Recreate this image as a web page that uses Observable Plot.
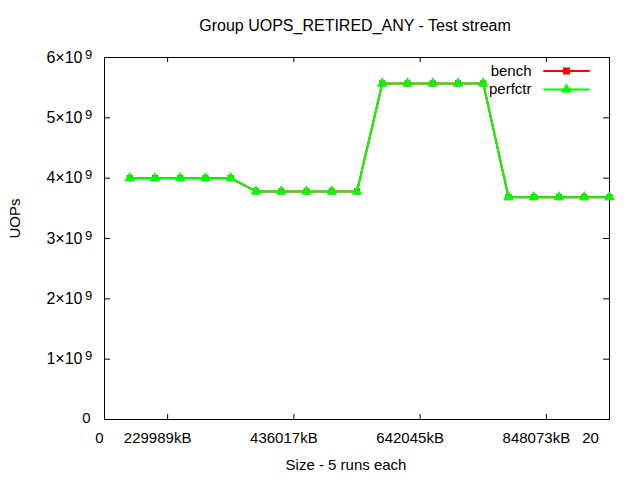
<!DOCTYPE html>
<html>
<head>
<meta charset="utf-8">
<script src="https://cdn.jsdelivr.net/npm/d3@7"></script>
<script src="https://cdn.jsdelivr.net/npm/@observablehq/plot@0.6"></script>
<style>
  body { margin: 0; background: #fff; }
</style>
</head>
<body>
<div id="chart"></div>
<script>
// ---- data ----
const runIndex = [1, 2, 3, 4, 5, 6, 7, 8, 9, 10, 11, 12, 13, 14, 15, 16, 17, 18, 19, 20];
const bench = [4.0e9, 4.0e9, 4.0e9, 4.0e9, 4.0e9,
               3.78e9, 3.78e9, 3.78e9, 3.78e9, 3.78e9,
               5.57e9, 5.57e9, 5.57e9, 5.57e9, 5.57e9,
               3.685e9, 3.685e9, 3.685e9, 3.685e9, 3.685e9];
const perfctr = [4.0e9, 4.0e9, 4.0e9, 4.0e9, 4.0e9,
                 3.78e9, 3.78e9, 3.78e9, 3.78e9, 3.78e9,
                 5.57e9, 5.57e9, 5.57e9, 5.57e9, 5.57e9,
                 3.685e9, 3.685e9, 3.685e9, 3.685e9, 3.685e9];
const xTickValues = [0, 2.5, 7.5, 12.5, 17.5, 20];
const xTickLabels = ["0", "229989kB", "436017kB", "642045kB", "848073kB", "20"];
const yTickValues = [0, 1e9, 2e9, 3e9, 4e9, 5e9, 6e9];
const yTickMantissa = ["0", "1×10", "2×10", "3×10", "4×10", "5×10", "6×10"];
const yTickExponent = "9";
const seriesNames = ["bench", "perfctr"];
const seriesColors = ["#ff0000", "#00ff00"];

const title = "Group UOPS_RETIRED_ANY - Test stream";
const xLabel = "Size - 5 runs each";
const yLabel = "UOPs";

// ---- layout ----
const W = 640, H = 480;
const mL = 104, mR = 31, mT = 57, mB = 61;
const plotW = W - mL - mR, plotH = H - mT - mB;
const font = "Liberation Sans, Arial, Helvetica, sans-serif";

const benchData = runIndex.map((x, i) => ({x, y: bench[i]}));
const perfData = runIndex.map((x, i) => ({x, y: perfctr[i]}));
const xTicks = xTickValues.map((v, i) => ({v, label: xTickLabels[i]}));
const yTicks = yTickValues.map((v, i) => ({v, label: yTickMantissa[i]}));
const innerX = xTickValues.filter(v => v > 0 && v < 20);
const innerY = yTickValues.filter(v => v > 0 && v < 6e9);

const lineShape = {draw(context, l) { context.moveTo(0, 0); context.lineTo(0, -l); }};
const T = {fill: "#000", lineAnchor: "middle"};

const chart = Plot.plot({
  width: W, height: H,
  marginLeft: mL, marginRight: mR, marginTop: mT, marginBottom: mB,
  style: {fontFamily: font, fontSize: "15px", background: "#fff", color: "#000"},
  x: {domain: [0, 20], axis: null},
  y: {domain: [0, 6e9], axis: null},
  marks: [
    // inward ticks on all four sides
    Plot.tickY(innerY, {y: d => d, insetRight: plotW - 6, stroke: "#000"}),
    Plot.tickY(innerY, {y: d => d, insetLeft: plotW - 6, stroke: "#000"}),
    Plot.tickX(innerX, {x: d => d, insetTop: plotH - 5, stroke: "#000"}),
    Plot.tickX(innerX, {x: d => d, insetBottom: plotH - 5, stroke: "#000"}),
    Plot.frame({stroke: "#000"}),

    // series
    Plot.line(benchData, {x: "x", y: "y", stroke: seriesColors[0], strokeWidth: 2}),
    Plot.dot(benchData, {x: "x", y: "y", symbol: "square", r: 3.4, fill: "#b00000"}),
    Plot.line(perfData, {x: "x", y: "y", stroke: seriesColors[1], strokeWidth: 2}),
    Plot.dot(perfData, {x: "x", y: "y", symbol: "triangle", r: 4, fill: seriesColors[1]}),

    // x tick labels
    Plot.text(xTicks.filter(d => d.v === 0), {x: "v", text: "label", frameAnchor: "bottom", dy: 19, dx: -5, fontSize: 15, ...T}),
    Plot.text(xTicks.filter(d => d.v > 0 && d.v < 20), {x: "v", text: "label", frameAnchor: "bottom", dy: 19, dx: -10, fontSize: 15, ...T}),
    Plot.text(xTicks.filter(d => d.v === 20), {x: "v", text: "label", frameAnchor: "bottom", dy: 19, dx: -19, fontSize: 15, ...T}),
    // y tick labels
    Plot.text(yTicks.filter(d => d.v === 0), {y: "v", text: "label", frameAnchor: "left",
      textAnchor: "end", dx: -14, dy: -1, fontSize: 15, ...T}),
    Plot.text(yTicks.filter(d => d.v > 0), {y: "v", text: "label", frameAnchor: "left",
      textAnchor: "end", dx: -22, fontSize: 16, ...T}),
    Plot.text(yTicks.filter(d => d.v > 0), {y: "v", text: () => yTickExponent, frameAnchor: "left",
      textAnchor: "start", dx: -19.5, dy: -3, fontSize: 13, ...T}),

    // axis labels & title
    Plot.text([yLabel], {frameAnchor: "left", dx: -89, rotate: -90, fontSize: 15, ...T}),
    Plot.text([xLabel], {frameAnchor: "bottom", dx: -11, dy: 46, fontSize: 15, ...T}),
    Plot.text([title], {frameAnchor: "top", dx: -2, dy: -32, fontSize: 16, ...T}),

    // legend
    Plot.text([seriesNames[0]], {frameAnchor: "top-right", dx: -78, dy: 13.5, textAnchor: "end", fontSize: 15, ...T}),
    Plot.vector([0], {frameAnchor: "top-right", dx: -43, dy: 13.5, length: 45, rotate: 90,
      shape: lineShape, stroke: seriesColors[0], strokeWidth: 2}),
    Plot.dot([0], {frameAnchor: "top-right", dx: -43, dy: 13.5, symbol: "square", r: 4, fill: seriesColors[0]}),
    Plot.text([seriesNames[1]], {frameAnchor: "top-right", dx: -78, dy: 32, textAnchor: "end", fontSize: 15, ...T}),
    Plot.vector([0], {frameAnchor: "top-right", dx: -43, dy: 32, length: 45, rotate: 90,
      shape: lineShape, stroke: seriesColors[1], strokeWidth: 2}),
    Plot.dot([0], {frameAnchor: "top-right", dx: -43, dy: 32, symbol: "triangle", r: 4, fill: seriesColors[1]})
  ]
});
document.getElementById("chart").appendChild(chart);
</script>
</body>
</html>
